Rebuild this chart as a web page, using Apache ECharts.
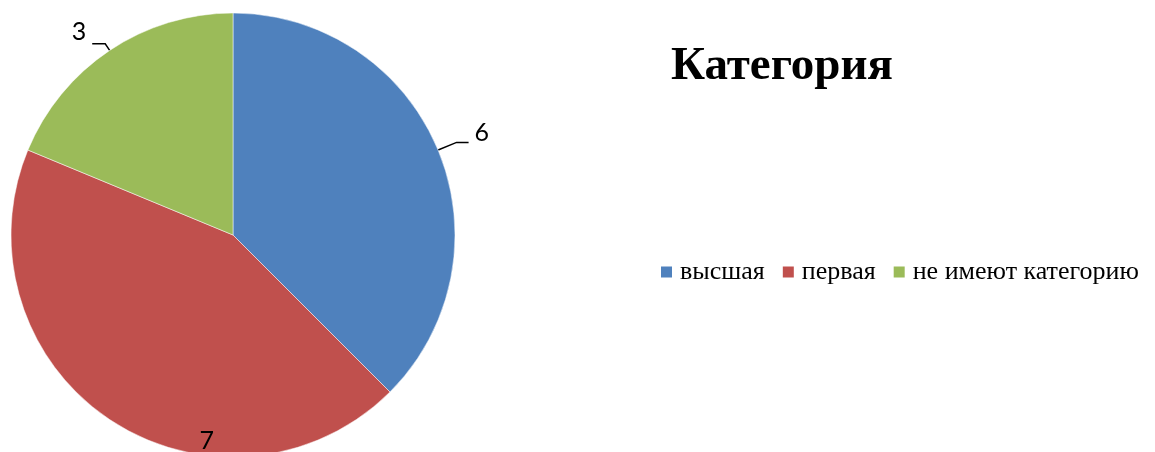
<!DOCTYPE html>
<html>
<head>
<meta charset="utf-8">
<script src="https://cdn.jsdelivr.net/npm/echarts@6/dist/echarts.min.js"></script>
<style>
  html, body { margin: 0; padding: 0; background: #fff; }
  #chart { width: 1155px; height: 452px; }
</style>
</head>
<body>
<div id="chart"></div>
<script>
const categories = ['высшая', 'первая', 'не имеют категорию'];
const values = [6, 7, 3];
const colors = ['#4F81BD', '#C0504D', '#9BBB59'];

const chart = echarts.init(document.getElementById('chart'));

const labelFont = { color: '#000', fontFamily: 'Lato', fontSize: 25, formatter: '{c}' };

chart.setOption({
  animation: false,
  color: colors,
  title: {
    text: 'Категория',
    left: 666,
    top: 38,
    textStyle: {
      fontFamily: 'Liberation Serif',
      fontWeight: 'bold',
      fontSize: 47,
      color: '#000'
    }
  },
  legend: {
    left: 656,
    top: 254,
    width: 495,
    itemWidth: 11,
    itemHeight: 11,
    itemGap: 18,
    icon: 'rect',
    itemStyle: { borderWidth: 0 },
    textStyle: {
      fontFamily: 'Liberation Serif',
      fontSize: 26,
      color: '#000',
      padding: [0, 0, 0, 3]
    },
    data: categories
  },
  series: [
    {
      type: 'pie',
      center: [233, 235],
      radius: 222,
      startAngle: 90,
      clockwise: true,
      avoidLabelOverlap: false,
      itemStyle: { borderColor: '#fff', borderWidth: 0.5 },
      labelLine: {
        show: true,
        length: 20,
        length2: 12,
        lineStyle: { color: '#000', width: 1.5 }
      },
      label: Object.assign({ show: true, position: 'outside', distanceToLabelLine: 6 }, labelFont),
      // the "7" label sits near the outer edge, like the original's best-fit placement
      labelLayout: function (p) {
        if (p.dataIndex === 1) return { dx: 37, dy: 111 };
        if (p.dataIndex === 2) return { dy: -12 };
        if (p.dataIndex === 0) return { dy: -9 };
        return {};
      },
      data: categories.map((name, i) => {
        const d = { name: name, value: values[i] };
        if (i === 1) {
          d.label = Object.assign({ show: true, position: 'inside' }, labelFont);
          d.labelLine = { show: false };
        }
        if (i === 2) {
          d.labelLine = { length: 8, length2: 13 };
        }
        return d;
      })
    }
  ]
});
</script>
</body>
</html>
